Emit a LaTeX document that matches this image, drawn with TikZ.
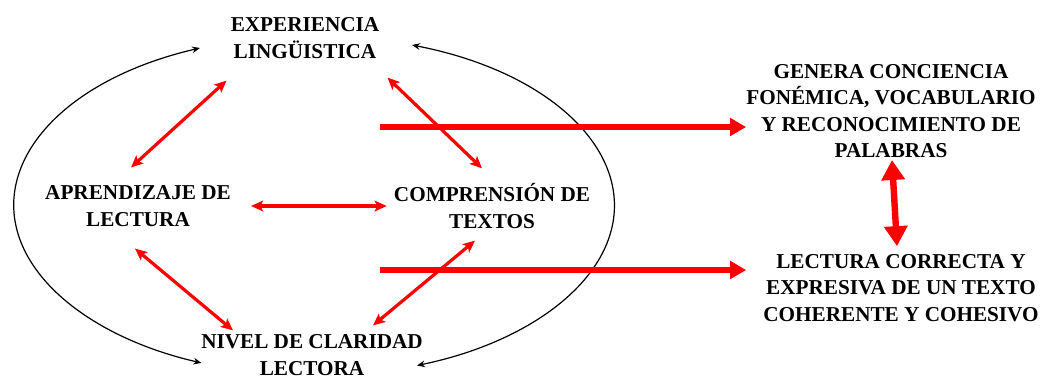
\documentclass[tikz,border=0pt]{standalone}
\usepackage{fontspec}
\setmainfont{Liberation Serif}
\usepackage{tikz}
\usetikzlibrary{arrows.meta,positioning}

\begin{document}
\begin{tikzpicture}[x=0.75pt, y=-0.75pt,
		lbl/.style = {align=center, inner sep=0pt, font=\bfseries\fontsize{15.9}{19.8}\selectfont},
		rthin/.style = {draw=red, line width=2.4pt, {Stealth[length=9pt,width=8pt,inset=2pt]}-{Stealth[length=9pt,width=8pt,inset=2pt]}},
		rthick/.style = {draw=red, line width=4.8pt, -{Triangle[length=12pt,width=13pt]}},
		cycarrow/.style = {draw=black, line width=0.9pt, {Stealth[length=6pt,width=5pt]}-{Stealth[length=6pt,width=5pt]}}]
	
		\useasboundingbox (0, 0) rectangle (1045, 380);
		
		\node[lbl] (exp) at (305, 38) {EXPERIENCIA\\LINGÜISTICA};
		\node[lbl] (apr) at (138, 206) {APRENDIZAJE DE\\LECTURA};
		\node[lbl] (comp) at (492, 206) {COMPRENSIÓN DE\\TEXTOS};
		\node[lbl] (niv) at (312, 355) {NIVEL DE CLARIDAD\\LECTORA};
		
		\node[lbl] (gen) at (891, 111) {GENERA CONCIENCIA\\FONÉMICA, VOCABULARIO\\Y RECONOCIMIENTO DE\\PALABRAS};
		\node[lbl] (lec) at (901, 288) {LECTURA CORRECTA Y\\EXPRESIVA DE UN TEXTO\\COHERENTE Y COHESIVO};
		
		% cycle round the four
		\coordinate (expL) at (200, 48);
		\coordinate (expR) at (412, 45);
		\draw[cycarrow] (expL) arc[start angle=112.3, end angle=248, x radius=225pt, y radius=127.5pt];
		\draw[cycarrow] (expR) arc[start angle=71, end angle=-70, x radius=225pt, y radius=127.5pt];
		
		\draw[rthin] ([shift={(-4, 22)}]exp.south west) -- ([shift={(-7, -18)}]apr.north);
		\draw[rthin] ([shift={(8, 19)}]exp.south east) -- ([shift={(-10, -15)}]comp.north);
		\draw[rthin] ([shift={(20, 0)}]apr.east) -- ([shift={(-7, 0)}]comp.west);
		\draw[rthin] ([shift={(-3, 22)}]apr.south) -- ([shift={(-79, -4)}]niv.north);
		\draw[rthin] ([shift={(-17, 12)}]comp.south) -- ([shift={(-50, -9)}]niv.north east);
		
		\coordinate (t1) at (380, 127);
		\coordinate (t2) at (380, 270);
		\draw[rthick] (t1) -- (t1 -| gen.west);
		\draw[rthick] (t2) -- ([shift={(-17, 0)}]lec.west |- t2);
		
		\draw[draw=red, line width=4.8pt, {Triangle[length=15pt,width=17pt]}-{Triangle[length=15pt,width=17pt]}]
			([shift={(1, 2)}]gen.south) -- ([shift={(-4, -8)}]lec.north);
	
	\end{tikzpicture}
\end{document}
